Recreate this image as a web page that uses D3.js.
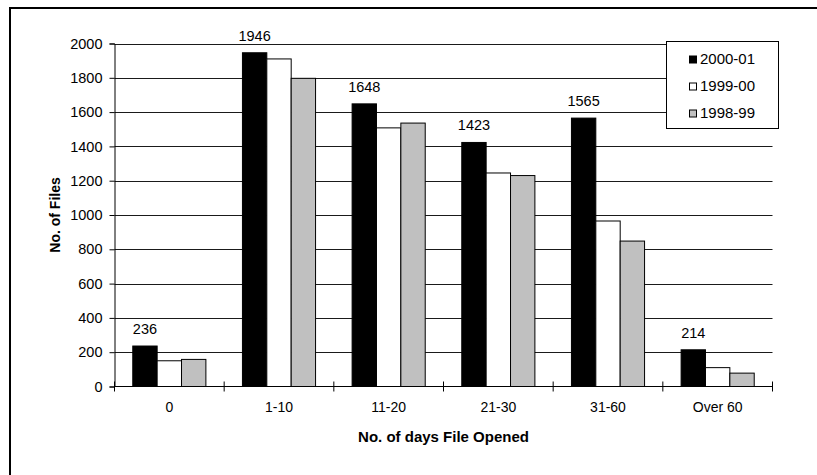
<!DOCTYPE html>
<html>
<head>
<meta charset="utf-8">
<script src="https://cdn.jsdelivr.net/npm/d3@7/dist/d3.min.js"></script>
<style>
  html, body { margin: 0; padding: 0; background: #fff; }
  svg { display: block; font-family: "Liberation Sans", Arial, sans-serif; }
</style>
</head>
<body>
<svg id="chart" width="817" height="475"></svg>
<script>
// Files by number of days opened, three financial years
const categories = ["0", "1-10", "11-20", "21-30", "31-60", "Over 60"];
const seriesNames = ["2000-01", "1999-00", "1998-99"];
const values2000_01 = [236, 1946, 1648, 1423, 1565, 214];
const values1999_00 = [150, 1910, 1508, 1245, 965, 110];
const values1998_99 = [158, 1797, 1536, 1230, 848, 78];
const yTicks = [0, 200, 400, 600, 800, 1000, 1200, 1400, 1600, 1800, 2000];
const fills = ["#000000", "#ffffff", "#c0c0c0"];

const seriesValues = [values2000_01, values1999_00, values1998_99];
const FONT = "'Liberation Sans', Arial, sans-serif";

const svg = d3.select("#chart");

// outer frame
svg.append("rect")
  .attr("x", 10).attr("y", 8)
  .attr("width", 830).attr("height", 490)
  .attr("fill", "none").attr("stroke", "#000").attr("stroke-width", 2);

const plot = { left: 114.5, right: 772.5, top: 43.5, bottom: 386.5 };

const x = d3.scaleBand().domain(categories).range([plot.left, plot.right]).padding(0);
const bw = x.bandwidth();
// three bars per category with a 150% gap between groups
const xs = d3.scaleBand().domain(seriesNames)
  .range([bw * 0.75 / 4.5, bw * (3 + 0.75) / 4.5]).padding(0);

const y = d3.scaleLinear().domain([0, 2000]).range([plot.bottom, plot.top]);

// gridlines
svg.append("g")
  .selectAll("line")
  .data(yTicks.filter(d => d > 0))
  .join("line")
  .attr("x1", plot.left).attr("x2", plot.right)
  .attr("y1", d => Math.round(y(d)) + 0.5).attr("y2", d => Math.round(y(d)) + 0.5)
  .attr("stroke", "#1a1a1a").attr("stroke-width", 1);

// bars
const groups = svg.append("g")
  .selectAll("g")
  .data(categories)
  .join("g")
  .attr("transform", d => `translate(${x(d)},0)`);

groups.selectAll("rect")
  .data((c, ci) => seriesNames.map((s, si) => ({ s, si, v: seriesValues[si][ci] })))
  .join("rect")
  .attr("x", d => xs(d.s))
  .attr("width", xs.bandwidth())
  .attr("y", d => y(d.v))
  .attr("height", d => y(0) - y(d.v))
  .attr("fill", d => fills[d.si])
  .attr("stroke", "#000").attr("stroke-width", 1);

// value labels over the 2000-01 bars
svg.append("g")
  .selectAll("text")
  .data(categories.map((c, i) => i))
  .join("text")
  .attr("x", i => x(categories[i]) + xs(seriesNames[0]) + xs.bandwidth() / 2)
  .attr("y", i => y(values2000_01[i]) - 12)
  .attr("text-anchor", "middle")
  .attr("font-size", 14.5)
  .text(i => values2000_01[i]);

// y axis
const yAxis = d3.axisLeft(y).tickValues(yTicks).tickSize(5).tickPadding(7).tickFormat(d3.format("d"));
svg.append("g")
  .attr("transform", `translate(${plot.left},0)`)
  .call(yAxis)
  .call(g => g.select(".domain").attr("stroke", "#000"))
  .call(g => g.selectAll(".tick line").attr("stroke", "#000"))
  .call(g => g.selectAll("text").attr("font-size", 14.5).attr("fill", "#000")
    .attr("font-family", FONT));

// x axis with crossing tick marks at category boundaries
const xAxisG = svg.append("g").attr("transform", `translate(0,${plot.bottom})`);
xAxisG.append("line")
  .attr("x1", plot.left).attr("x2", plot.right)
  .attr("stroke", "#000");
const boundaries = categories.map(c => x(c)).concat([plot.right]);
xAxisG.selectAll("line.tk")
  .data(boundaries)
  .join("line")
  .attr("class", "tk")
  .attr("x1", d => d).attr("x2", d => d)
  .attr("y1", -5).attr("y2", 5)
  .attr("stroke", "#000");
xAxisG.selectAll("text")
  .data(categories)
  .join("text")
  .attr("x", d => x(d) + bw / 2)
  .attr("y", 25.5)
  .attr("text-anchor", "middle")
  .attr("font-size", 14)
  .text(d => d);

// axis titles
svg.append("text")
  .attr("x", (plot.left + plot.right) / 2)
  .attr("y", 442)
  .attr("text-anchor", "middle")
  .attr("font-size", 15).attr("font-weight", "bold")
  .text("No. of days File Opened");

svg.append("text")
  .attr("transform", `translate(60,${(plot.top + plot.bottom) / 2}) rotate(-90)`)
  .attr("text-anchor", "middle")
  .attr("font-size", 14).attr("font-weight", "bold")
  .text("No. of Files");

// legend
const legend = svg.append("g").attr("transform", "translate(666,41)");
legend.append("rect")
  .attr("x", 0.5).attr("y", 0.5).attr("width", 112).attr("height", 87)
  .attr("fill", "#fff").attr("stroke", "#000");
const items = legend.selectAll("g.item")
  .data(seriesNames)
  .join("g").attr("class", "item")
  .attr("transform", (d, i) => `translate(23,${14.5 + i * 27})`);
items.append("rect")
  .attr("x", 0.5).attr("y", 0.5).attr("width", 7).attr("height", 7)
  .attr("fill", (d, i) => fills[i]).attr("stroke", "#000");
items.append("text")
  .attr("x", 11).attr("y", 8.5)
  .attr("font-size", 15)
  .text(d => d);
</script>
</body>
</html>
